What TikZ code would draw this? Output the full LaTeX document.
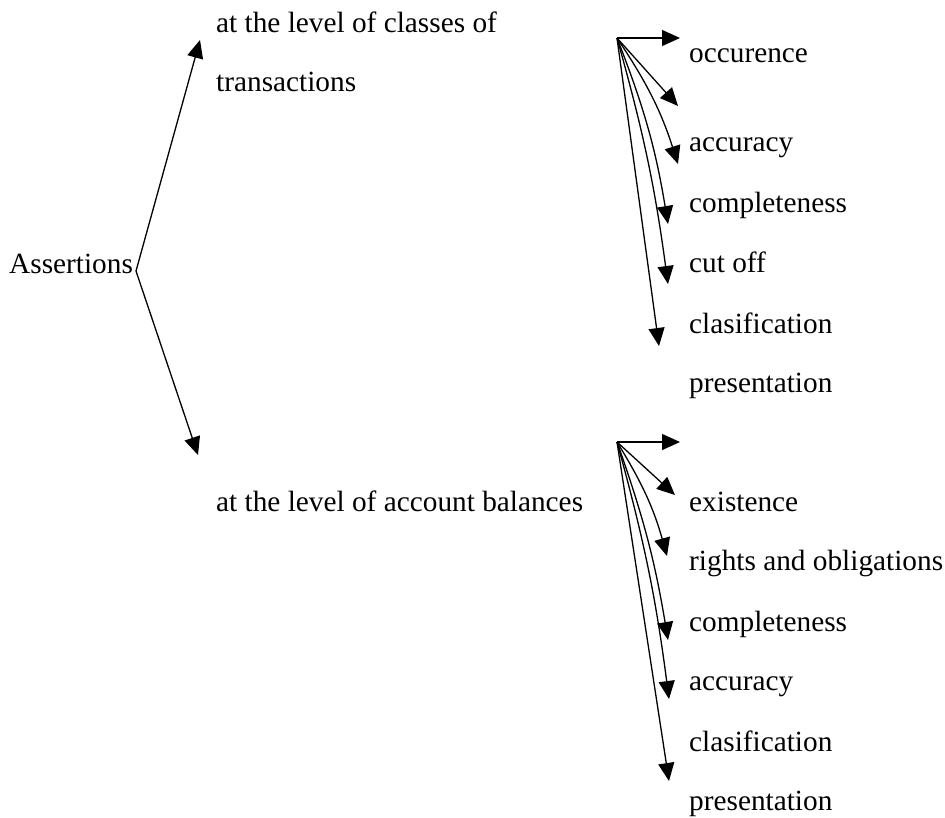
\documentclass[tikz,border=0pt]{standalone}
\usepackage{fontspec}
\setmainfont{Liberation Serif}
\usetikzlibrary{arrows.meta}
\begin{document}
\begin{tikzpicture}[x=1pt,y=-1pt,
  lbl/.style={anchor=base west,inner sep=0pt,font=\fontsize{29.3}{35}\selectfont},
  arr/.style={line width=1.3pt,-{Triangle[length=18pt,width=16pt]}}]
\useasboundingbox (0,0) rectangle (945,817);

% main branch
\node[lbl] (as) at (9,273) {Assertions};
\node[lbl] (tr1) at (216,32) {at the level of classes of};
\node[lbl] (tr2) at (216,91) {transactions};
\node[lbl] (ab) at (216,511) {at the level of account balances};
\coordinate (v) at (136,271);
\coordinate (up) at (200,40);
\coordinate (dn) at (198,455);
\draw[arr] (v) -- (up);
\draw[arr] (v) -- (dn);

% transactions assertions
\node[lbl] (t1) at (689,62) {occurence};
\node[lbl] (t2) at (689,151) {accuracy};
\node[lbl] (t3) at (689,212) {completeness};
\node[lbl] (t4) at (689,272) {cut off};
\node[lbl] (t5) at (689,333) {clasification};
\node[lbl] (t6) at (689,392) {presentation};
\coordinate (o1) at (617,38);
\coordinate (a1) at (680,38);
\coordinate (a2) at (678,106);
\coordinate (a3) at (678,164);
\coordinate (a4) at (668,224);
\coordinate (a5) at (668,284);
\coordinate (a6) at (659,346);
\draw[arr] (o1) -- (a1);
\draw[arr] (o1) -- (a2);
\draw[arr] (o1) to[bend left=8] (a3);
\draw[arr] (o1) to[bend left=6] (a4);
\draw[arr] (o1) to[bend left=4] (a5);
\draw[arr] (o1) -- (a6);

% account balance assertions
\node[lbl] (b1) at (689,511) {existence};
\node[lbl] (b2) at (689,570) {rights and obligations};
\node[lbl] (b3) at (689,631) {completeness};
\node[lbl] (b4) at (689,690) {accuracy};
\node[lbl] (b5) at (689,751) {clasification};
\node[lbl] (b6) at (689,810) {presentation};
\coordinate (o2) at (617,442);
\coordinate (c1) at (680,442);
\coordinate (c2) at (675,495);
\coordinate (c3) at (667,556);
\coordinate (c4) at (668,640);
\coordinate (c5) at (669,699);
\coordinate (c6) at (669,781);
\draw[arr] (o2) -- (c1);
\draw[arr] (o2) -- (c2);
\draw[arr] (o2) to[bend left=8] (c3);
\draw[arr] (o2) to[bend left=5] (c4);
\draw[arr] (o2) to[bend left=4] (c5);
\draw[arr] (o2) -- (c6);
\end{tikzpicture}
\end{document}
